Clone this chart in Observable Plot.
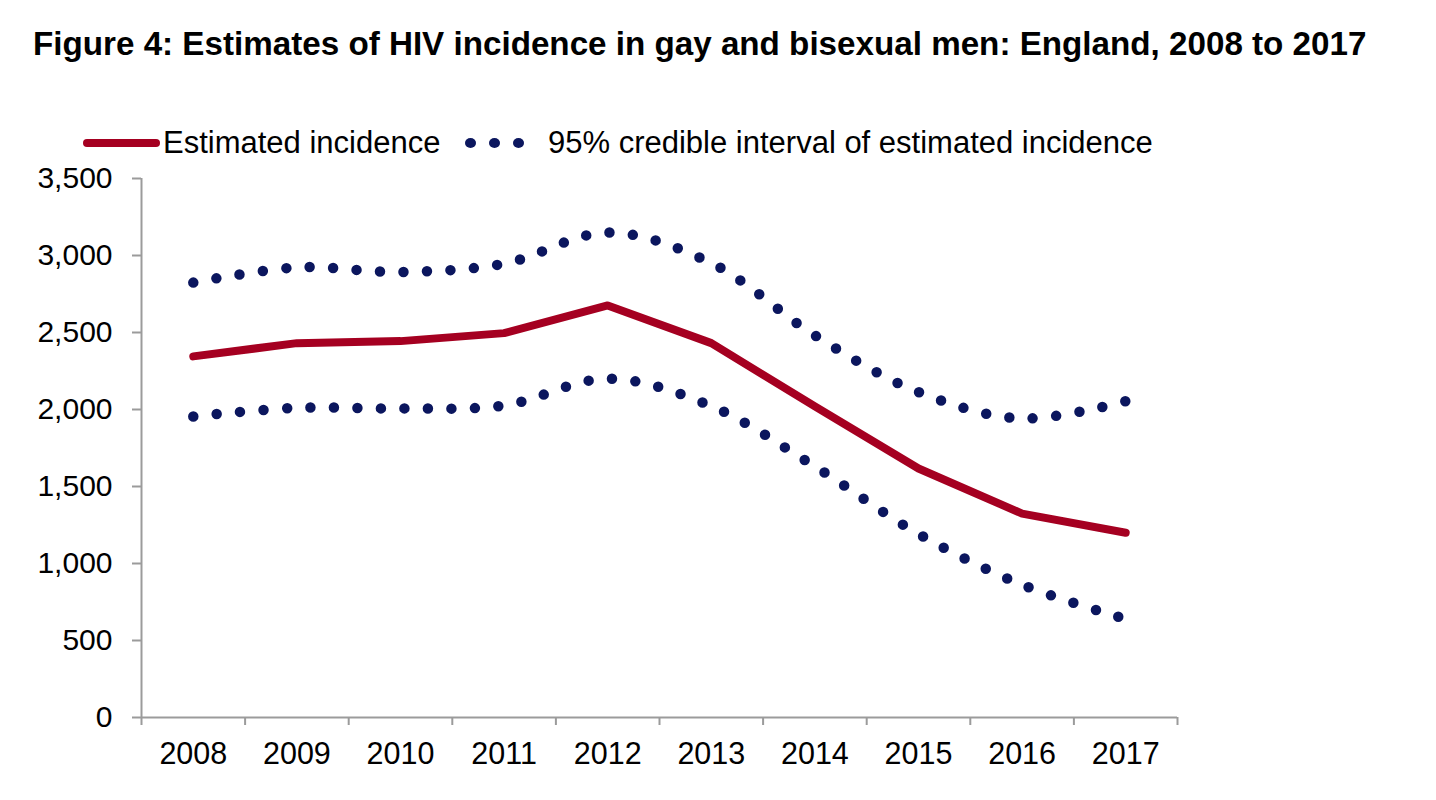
<!DOCTYPE html>
<html>
<head>
<meta charset="utf-8">
<script src="https://cdn.jsdelivr.net/npm/d3@7"></script>
<script src="https://cdn.jsdelivr.net/npm/@observablehq/plot@0.6"></script>
<style>
  html, body { margin: 0; padding: 0; background: #fff; }
  body { width: 1436px; height: 800px; position: relative; overflow: hidden;
         font-family: "Liberation Sans", Arial, sans-serif; color: #000; }
  #title { position: absolute; left: 33px; top: 25px; font-size: 33.2px; font-weight: bold;
           line-height: 38px; white-space: nowrap; z-index: 2; }
  #legend { position: absolute; left: 0; top: 126px; width: 1436px; height: 34px; z-index: 2; }
  #legend .txt { position: absolute; top: 0; font-size: 31px; line-height: 34px; white-space: nowrap; }
  #legend .sw { position: absolute; }
  #chart { position: absolute; left: 0; top: 140px; z-index: 1; }
</style>
</head>
<body>
<div id="title">Figure 4: Estimates of HIV incidence in gay and bisexual men: England, 2008 to 2017</div>
<div id="legend"></div>
<div id="chart"></div>
<script>
const years = [2008, 2009, 2010, 2011, 2012, 2013, 2014, 2015, 2016, 2017];
const estimate = [2345, 2431, 2444, 2496, 2676, 2431, 2020, 1617, 1324, 1200];
const upper = [2824, 2923, 2893, 2947, 3149, 2951, 2481, 2113, 1942, 2054];
const lower = [1955, 2011, 2007, 2026, 2200, 2022, 1630, 1192, 862, 640];
const yTicks = [0, 500, 1000, 1500, 2000, 2500, 3000, 3500];
const seriesNames = ["Estimated incidence", "95% credible interval of estimated incidence"];

const red = "#a50021";
const navy = "#0b165e";
const axisGray = "#9b9b9b";

const estData = years.map((y, i) => ({year: y, value: estimate[i]}));
const upData = years.map((y, i) => ({year: y, value: upper[i]}));
const loData = years.map((y, i) => ({year: y, value: lower[i]}));
const boundaries = [years[0] - 0.5, ...years.map(y => y + 0.5)];

// Legend
const legend = document.getElementById("legend");
legend.innerHTML = `
  <div class="sw" style="left:83px;top:13px;width:77px;height:8px;border-radius:4px;background:${red}"></div>
  <div class="txt" style="left:163px">${seriesNames[0]}</div>
  <div class="sw" style="left:465px;top:12px;width:11px;height:10px;border-radius:50%;background:${navy}"></div>
  <div class="sw" style="left:489px;top:12px;width:11px;height:10px;border-radius:50%;background:${navy}"></div>
  <div class="sw" style="left:513px;top:12px;width:11px;height:10px;border-radius:50%;background:${navy}"></div>
  <div class="txt" style="left:548px">${seriesNames[1]}</div>`;

const fmt = d3.format(",");

const chart = Plot.plot({
  width: 1436,
  height: 660,
  marginTop: 38,
  marginBottom: 83,
  marginLeft: 141,
  marginRight: 259,
  style: {fontFamily: "'Liberation Sans', Arial, sans-serif", fontSize: "30px", color: "#000", background: "transparent", overflow: "visible"},
  x: {type: "linear", domain: [years[0] - 0.5, years[years.length - 1] + 0.5], label: null},
  y: {domain: [0, 3500], label: null},
  marks: [
    Plot.axisY({ticks: yTicks, tickSize: 9, tickPadding: 20, tickFormat: d => fmt(d), stroke: axisGray, strokeWidth: 2, fill: "#000", fontSize: 30, label: null}),
    Plot.axisX({ticks: years, tickSize: 0, tickPadding: 25, tickFormat: d => String(d), fill: "#000", fontSize: 30.5, label: null}),
    Plot.axisX({ticks: boundaries, tickSize: 8, tickFormat: () => "", stroke: axisGray, strokeWidth: 2, label: null}),
    Plot.ruleX([years[0] - 0.5], {stroke: axisGray, strokeWidth: 2}),
    Plot.ruleY([0], {stroke: axisGray, strokeWidth: 2}),
    Plot.line(upData, {x: "year", y: "value", stroke: navy, strokeWidth: 10.5, strokeDasharray: "0 23.5", strokeLinecap: "round", curve: "catmull-rom"}),
    Plot.line(loData, {x: "year", y: "value", stroke: navy, strokeWidth: 10.5, strokeDasharray: "0 23.5", strokeLinecap: "round", curve: "catmull-rom"}),
    Plot.line(estData, {x: "year", y: "value", stroke: red, strokeWidth: 8, strokeLinecap: "round", strokeLinejoin: "round", curve: "linear"})
  ]
});
document.getElementById("chart").appendChild(chart);
</script>
</body>
</html>
